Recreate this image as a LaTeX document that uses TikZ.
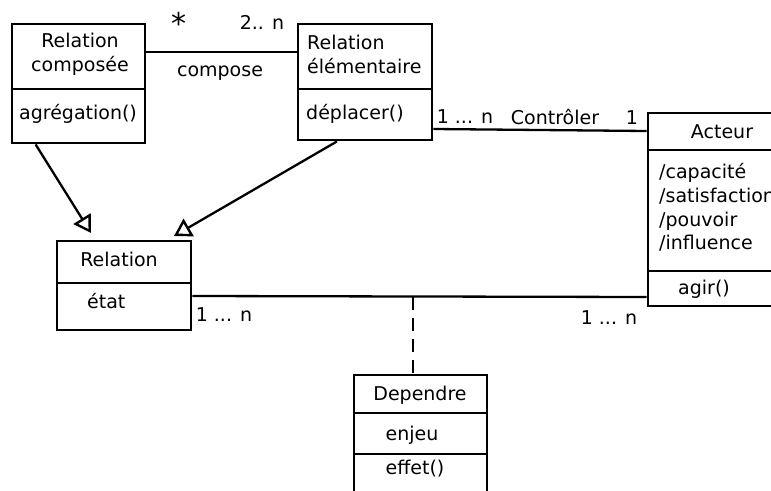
\documentclass[tikz,border=0pt]{standalone}
\usepackage{fontspec}
\setmainfont{DejaVu Sans}
\usetikzlibrary{arrows.meta, positioning}

\tikzset{
  classbox/.style={draw, line width=2.8pt, inner sep=0pt},
  txt/.style={inner sep=0pt},
  assoc/.style={line width=2.3pt},
  inherit/.style={line width=2.3pt, -{Triangle[open, length=17pt, width=20pt, line width=2.4pt]}},
}

\begin{document}
\begin{tikzpicture}[x=1pt, y=-1pt, font=\fontsize{19}{23.8}\selectfont]
        \useasboundingbox (0,0) rectangle (771,490);
        \clip (0,0) rectangle (771,490);

        % classes
        \node[classbox, minimum width=133pt, minimum height=119pt] (comp) at (78.5,83.5) {};
        \node[classbox, minimum width=134pt, minimum height=116pt] (elem) at (365,82) {};
        \node[classbox, minimum width=134pt, minimum height=89pt] (rel) at (124,285.5) {};
        \node[classbox, minimum width=142pt, minimum height=193pt] (acteur) at (719,209.5) {};
        \node[classbox, minimum width=133pt, minimum height=125pt] (dep) at (420.5,437.5) {};

        \draw[line width=2.8pt] (comp.west |- 0,89) -- (comp.east |- 0,89);
        \draw[line width=2.8pt] (elem.west |- 0,89) -- (elem.east |- 0,89);
        \draw[line width=2.8pt] (rel.west |- 0,283) -- (rel.east |- 0,283);
        \draw[line width=2.8pt] (acteur.west |- 0,150) -- (acteur.east |- 0,150);
        \draw[line width=2.8pt] (acteur.west |- 0,271) -- (acteur.east |- 0,271);
        \draw[line width=2.8pt] (dep.west |- 0,413) -- (dep.east |- 0,413);
        \draw[line width=2.8pt] (dep.west |- 0,454) -- (dep.east |- 0,454);

        \node[txt, align=center] (compname) at (80,54) {Relation\\composée};
        \node[txt] (compop) at (78,114) {agrégation()};
        \node[txt, align=left, anchor=west] (elemname) at (307,54.5) {Relation\\élémentaire};
        \node[txt, anchor=west] (elemop) at (306,114) {déplacer()};
        \node[txt] (relname) at (119,259) {Relation};
        \node[txt, anchor=west] (relattr) at (87,301) {état};
        \node[txt] (actname) at (722,132) {Acteur};
        \node[txt, align=left, anchor=west] (actattr) at (659,207.5) {/capacité\\/satisfaction\\/pouvoir\\/influence};
        \node[txt] (actop) at (704,289) {agir()};
        \node[txt] (depname) at (420,395) {Dependre};
        \node[txt] (depattr) at (412,435) {enjeu};
        \node[txt] (depop) at (415,469) {effet()};

        % associations
        \draw[assoc] ([yshift=31.5pt]comp.east) -- ([yshift=30pt]elem.west);
        \node[txt, anchor=north, font=\fontsize{30}{30}\selectfont] (star) at (179,12) {*};
        \node[txt] (twon) at (262,22) {2.. n};
        \node[txt] (compose) at (220,73) {compose};

        \draw[assoc] ([yshift=-47pt]elem.east) -- ([yshift=78.5pt]acteur.west);
        \node[txt] (ctrlmany) at (465,117) {1 ... n};
        \node[txt] (ctrl) at (555,117) {Contrôler};
        \node[txt] (ctrlone) at (632,118) {1};

        \draw[assoc] ([yshift=-10.5pt]rel.east) -- ([yshift=-87.5pt]acteur.west);
        \node[txt] (relmany) at (224,315) {1 ... n};
        \node[txt] (actmany) at (609,318) {1 ... n};

        \coordinate (link) at (413,296.5);
        \draw[assoc, dash pattern=on 13pt off 8pt] (link) -- (link |- dep.north);

        % inheritance
        \coordinate (tipa) at (91,233);
        \coordinate (tipb) at (174,236);
        \draw[inherit] ([xshift=25pt]comp.south west) -- (tipa);
        \draw[inherit] ([xshift=-28pt]elem.south) -- (tipb);
\end{tikzpicture}
\end{document}
